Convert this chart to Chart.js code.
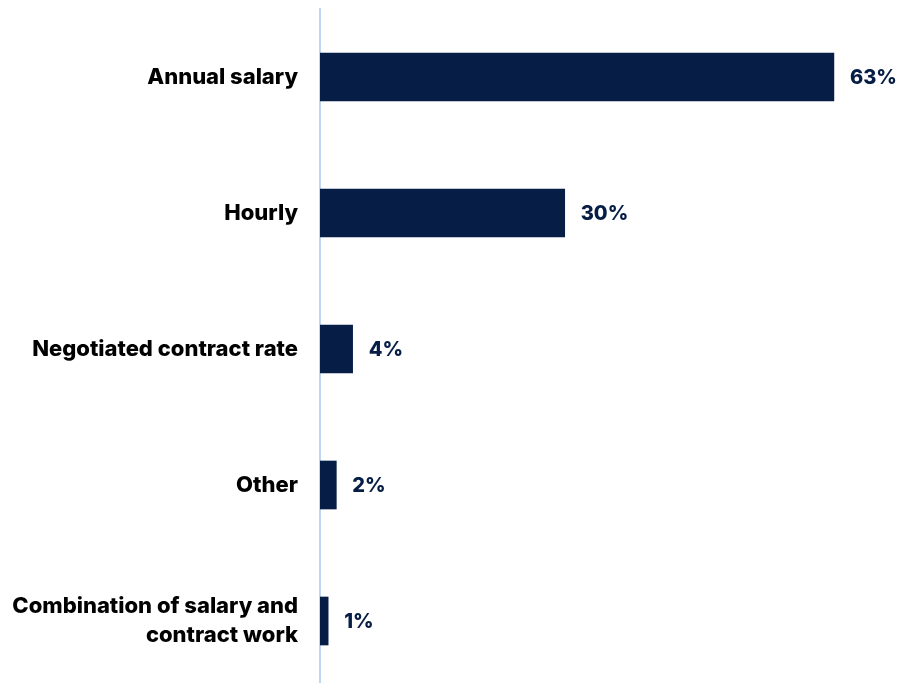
<!DOCTYPE html>
<html>
<head>
<meta charset="utf-8">
<script src="https://cdn.jsdelivr.net/npm/chart.js@4/dist/chart.umd.min.js"></script>
<style>
  html, body { margin: 0; padding: 0; background: #fff; overflow: hidden; }
  #wrap { position: relative; width: 899px; height: 689px; }
</style>
</head>
<body>
<div id="wrap"><canvas id="payChart"></canvas></div>
<script>
const categories = [
    'Annual salary',
    'Hourly',
    'Negotiated contract rate',
    'Other',
    ['Combination of salary and', 'contract work']
];
const shares = [63, 30, 4, 2, 1];

const navy = '#061E45';
const labelFont = { family: 'Inter', size: 22, weight: 800, lineHeight: 1.32 };

// writes the percentage just past the end of each bar
const valueLabels = {
    id: 'valueLabels',
    afterDatasetsDraw(chart) {
        const c = chart.ctx;
        const meta = chart.getDatasetMeta(0);
        c.save();
        c.fillStyle = navy;
        c.font = '800 20px Inter';
        c.textBaseline = 'middle';
        c.textAlign = 'left';
        meta.data.forEach((bar, i) => {
            c.fillText(shares[i] + '%', bar.x + 16, bar.y + 1);
        });
        c.restore();
    }
};

const ctx = document.getElementById('payChart').getContext('2d');
const payChart = new Chart(ctx, {
    type: 'bar',
    data: {
        labels: categories,
        datasets: [{
            data: shares,
            backgroundColor: navy,
            borderWidth: 0,
            barThickness: 48
        }]
    },
    options: {
        indexAxis: 'y',
        responsive: true,
        maintainAspectRatio: false,
        animation: false,
        layout: { padding: { top: 9, right: 8, left: 0, bottom: 0 } },
        plugins: {
            legend: { display: false },
            tooltip: { enabled: false }
        },
        scales: {
            x: {
                display: false,
                min: 0,
                max: 70
            },
            y: {
                afterFit(scale) {
                    scale.width = 320;
                    scale.paddingTop = 0;
                    scale.paddingBottom = 0;
                },
                grid: { display: false, drawTicks: false },
                border: { display: true, color: '#BFD5F3', width: 2 },
                ticks: {
                    color: '#000',
                    font: labelFont,
                    padding: 22,
                    crossAlign: 'near'
                }
            }
        }
    },
    plugins: [valueLabels]
});
</script>
</body>
</html>
